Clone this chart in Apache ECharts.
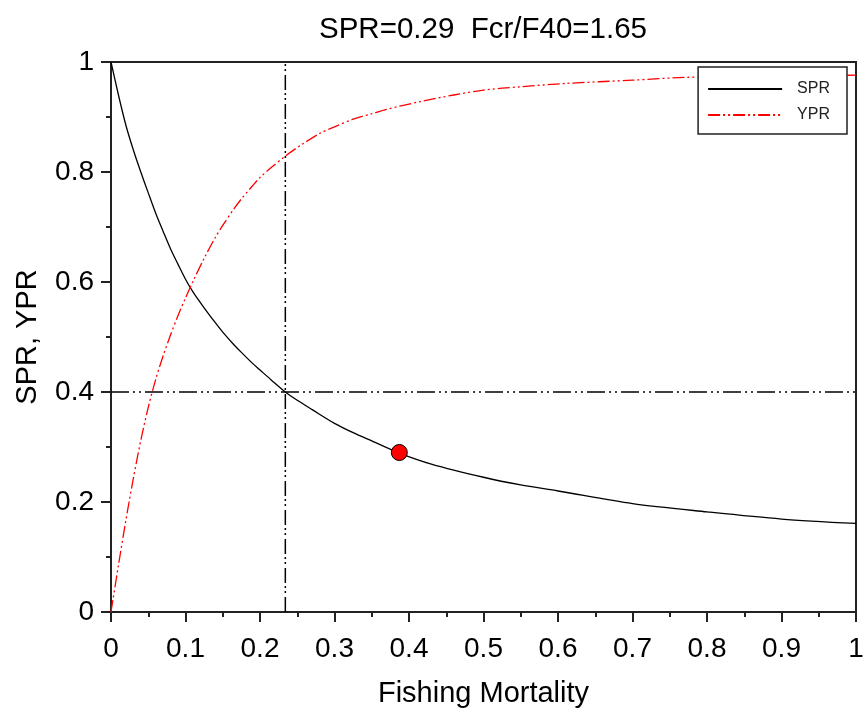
<!DOCTYPE html>
<html>
<head>
<meta charset="utf-8">
<script src="https://cdn.jsdelivr.net/npm/echarts@6/dist/echarts.min.js"></script>
<style>
html,body{margin:0;padding:0;background:#fff;}
#chart{width:864px;height:712px;}
</style>
</head>
<body>
<div id="chart"></div>
<script>
// ---- data ----
const titleText = 'SPR=0.29  Fcr/F40=1.65';
const xName = 'Fishing Mortality';
const yName = 'SPR, YPR';
const seriesNames = ['SPR', 'YPR'];

const sprF   = [0, 0.01, 0.02, 0.03, 0.04, 0.05, 0.06, 0.07, 0.08, 0.09, 0.10, 0.11, 0.125, 0.14, 0.15, 0.165, 0.175, 0.19, 0.2, 0.215, 0.234, 0.25, 0.27, 0.3, 0.325, 0.35, 0.387, 0.43, 0.5, 0.55, 0.6, 0.7, 0.8, 0.9, 1.0];
const sprVal = [1.0, 0.94, 0.885, 0.84, 0.80, 0.762, 0.725, 0.692, 0.66, 0.632, 0.605, 0.582, 0.553, 0.526, 0.509, 0.486, 0.472, 0.452, 0.44, 0.422, 0.40, 0.385, 0.368, 0.343, 0.326, 0.311, 0.289, 0.269, 0.245, 0.231, 0.220, 0.197, 0.182, 0.169, 0.161];

const yprF   = [0, 0.01, 0.02, 0.03, 0.04, 0.05, 0.06, 0.07, 0.08, 0.09, 0.10, 0.11, 0.125, 0.14, 0.15, 0.165, 0.175, 0.19, 0.2, 0.215, 0.234, 0.255, 0.28, 0.3, 0.325, 0.35, 0.37, 0.415, 0.46, 0.5, 0.55, 0.61, 0.7, 0.77, 0.85, 0.9, 1.0];
const yprVal = [0, 0.085, 0.167, 0.243, 0.312, 0.372, 0.423, 0.466, 0.504, 0.539, 0.571, 0.601, 0.643, 0.681, 0.703, 0.733, 0.751, 0.775, 0.79, 0.808, 0.829, 0.849, 0.87, 0.882, 0.896, 0.906, 0.914, 0.928, 0.940, 0.949, 0.955, 0.961, 0.967, 0.972, 0.974, 0.975, 0.976];

const f40 = 0.234;          // vertical reference line
const sprTarget = 0.4;      // horizontal reference line
const currentPoint = [0.387, 0.29];  // red marker (F, SPR)

const xTicks = {min: 0, max: 1, interval: 0.1};
const yTicks = {min: 0, max: 1, interval: 0.2};

// ---- chart ----
const FONT = '"Liberation Sans", Arial, Helvetica, sans-serif';
const pairs = (xs, ys) => xs.map((x, i) => [x, ys[i]]);

const chart = echarts.init(document.getElementById('chart'), null, {renderer: 'canvas'});
chart.setOption({
  animation: false,
  backgroundColor: '#fff',
  title: {
    text: titleText,
    left: 478, top: 10, textAlign: 'center',
    textStyle: {fontFamily: FONT, fontSize: 29.5, fontWeight: 'normal', color: '#000'}
  },
  legend: {
    data: seriesNames,
    orient: 'vertical',
    right: 17, top: 67,
    padding: [14, 17, 11, 9],
    itemWidth: 74, itemHeight: 14, itemGap: 10,
    backgroundColor: '#fff',
    borderColor: '#222', borderWidth: 1.5, borderRadius: 0,
    itemStyle: {color: 'rgba(0,0,0,0)', borderWidth: 0, opacity: 0},
    lineStyle: {width: 2},
    textStyle: {fontFamily: FONT, fontSize: 16, color: '#222', padding: [0, 0, 0, 10]}
  },
  grid: {left: 111, right: 8, top: 62, bottom: 100, outerBoundsMode: 'none', containLabel: false,
    show: true, borderColor: '#222', borderWidth: 2, backgroundColor: 'transparent'},
  xAxis: {
    type: 'value', min: xTicks.min, max: xTicks.max, interval: xTicks.interval,
    name: xName, nameLocation: 'middle', nameGap: 67,
    nameTextStyle: {fontFamily: FONT, fontSize: 29, color: '#000'},
    axisLine: {lineStyle: {color: '#222', width: 2}},
    axisTick: {inside: false, length: 10, lineStyle: {color: '#222', width: 2}},
    minorTick: {show: true, splitNumber: 2, length: 5, lineStyle: {color: '#222', width: 2}},
    splitLine: {show: false},
    axisLabel: {fontFamily: FONT, fontSize: 28, color: '#000', margin: 23,
      formatter: v => (v === 0 || v === 1) ? String(v) : v.toFixed(1)}
  },
  yAxis: {
    type: 'value', min: yTicks.min, max: yTicks.max, interval: yTicks.interval,
    name: yName, nameLocation: 'middle', nameGap: 69, nameRotate: 90,
    nameTextStyle: {fontFamily: FONT, fontSize: 29, color: '#000'},
    axisLine: {lineStyle: {color: '#222', width: 2}},
    axisTick: {inside: false, length: 10, lineStyle: {color: '#222', width: 2}},
    minorTick: {show: true, splitNumber: 2, length: 5, lineStyle: {color: '#222', width: 2}},
    splitLine: {show: false},
    axisLabel: {fontFamily: FONT, fontSize: 28, color: '#000', margin: 17,
      formatter: v => (v === 0 || v === 1) ? String(v) : v.toFixed(1)}
  },
  series: [
    {
      name: seriesNames[0], type: 'line', data: pairs(sprF, sprVal),
      showSymbol: false, symbol: 'none', smooth: 0.3,
      lineStyle: {color: '#000', width: 1.3}, itemStyle: {color: '#000'}, z: 3
    },
    {
      name: seriesNames[1], type: 'line', data: pairs(yprF, yprVal),
      showSymbol: false, symbol: 'none', smooth: 0.3,
      lineStyle: {color: '#ff0000', width: 1.3, type: [12, 3, 2, 3, 2, 3]}, itemStyle: {color: '#ff0000'}, z: 3
    },
    {
      name: 'F40', type: 'line', data: [[f40, yTicks.min], [f40, yTicks.max]],
      showSymbol: false, symbol: 'none', silent: true,
      lineStyle: {color: '#000', width: 1.5, type: [15, 4, 2, 3, 2, 3]}, z: 2
    },
    {
      name: 'SPR40', type: 'line', data: [[xTicks.min, sprTarget], [xTicks.max, sprTarget]],
      showSymbol: false, symbol: 'none', silent: true,
      lineStyle: {color: '#000', width: 1.5, type: [18, 4, 2, 4, 2, 4]}, z: 2
    },
    {
      name: 'current', type: 'scatter', data: [currentPoint],
      symbol: 'circle', symbolSize: 16,
      itemStyle: {color: '#ff0000', borderColor: '#000', borderWidth: 1, opacity: 1}, z: 5
    }
  ]
});
</script>
</body>
</html>
